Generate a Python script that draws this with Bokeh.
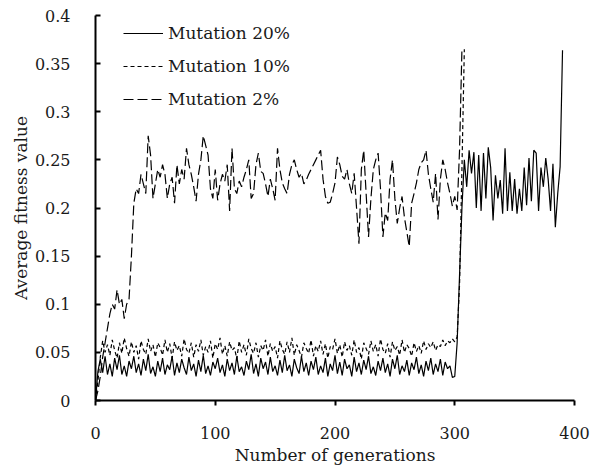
from bokeh.plotting import figure
from bokeh.models import Range1d, FixedTicker, NumeralTickFormatter, Legend, LegendItem
from bokeh.embed import file_html
from bokeh.resources import INLINE

# ---------------- data ----------------
series_labels = ["Mutation 20%", "Mutation 10%", "Mutation 2%"]
x_ticks = [0, 100, 200, 300, 400]
y_ticks = [0, 0.05, 0.1, 0.15, 0.2, 0.25, 0.3, 0.35, 0.4]

# generations 0, 2, 4, ... 390
gen_m20 = list(range(0, 391, 2))
fit_m20 = [
    0.000, 0.030, 0.043, 0.029, 0.046, 0.027, 0.038, 0.025, 0.044, 0.032,
    0.047, 0.027, 0.036, 0.025, 0.041, 0.033, 0.046, 0.029, 0.038, 0.026,
    0.043, 0.031, 0.048, 0.028, 0.035, 0.025, 0.041, 0.030, 0.044, 0.027,
    0.037, 0.032, 0.046, 0.026, 0.039, 0.029, 0.043, 0.034, 0.027, 0.045,
    0.031, 0.038, 0.025, 0.042, 0.030, 0.047, 0.028, 0.036, 0.026, 0.040,
    0.033, 0.044, 0.029, 0.037, 0.025, 0.043, 0.031, 0.039, 0.027, 0.046,
    0.030, 0.035, 0.026, 0.041, 0.032, 0.048, 0.028, 0.038, 0.025, 0.044,
    0.033, 0.040, 0.027, 0.045, 0.030, 0.036, 0.026, 0.042, 0.029, 0.047,
    0.031, 0.037, 0.025, 0.043, 0.034, 0.028, 0.046, 0.030, 0.039, 0.026,
    0.041, 0.032, 0.045, 0.027, 0.036, 0.029, 0.044, 0.025, 0.038, 0.031,
    0.047, 0.028, 0.040, 0.026, 0.043, 0.033, 0.037, 0.025, 0.045, 0.030,
    0.039, 0.027, 0.042, 0.032, 0.046, 0.028, 0.035, 0.026, 0.041, 0.031,
    0.044, 0.029, 0.038, 0.025, 0.043, 0.033, 0.047, 0.027, 0.036, 0.030,
    0.042, 0.026, 0.039, 0.032, 0.045, 0.028, 0.037, 0.025, 0.041, 0.031,
    0.044, 0.027, 0.038, 0.030, 0.043, 0.026, 0.040, 0.033, 0.036, 0.024,
    0.025,
    0.060, 0.130, 0.200, 0.250, 0.222, 0.260, 0.236, 0.258, 0.200, 0.255,
    0.197, 0.257, 0.210, 0.263, 0.242, 0.187, 0.234, 0.210, 0.229, 0.194,
    0.262, 0.197, 0.237, 0.197, 0.230, 0.194, 0.220, 0.197, 0.242, 0.203,
    0.252, 0.207, 0.260, 0.257, 0.197, 0.242, 0.222, 0.252, 0.230, 0.197,
    0.246, 0.180, 0.215, 0.243, 0.364,
]

# generations 0, 2, 4, ... 308
gen_m10 = list(range(0, 309, 2))
fit_m10 = [
    0.000, 0.020, 0.045, 0.062, 0.050, 0.058, 0.047, 0.063, 0.052, 0.044,
    0.060, 0.049, 0.065, 0.054, 0.046, 0.061, 0.050, 0.057, 0.043, 0.062,
    0.053, 0.048, 0.064, 0.051, 0.058, 0.045, 0.060, 0.055, 0.047, 0.063,
    0.050, 0.059, 0.044, 0.061, 0.052, 0.057, 0.046, 0.064, 0.053, 0.049,
    0.060, 0.045, 0.058, 0.051, 0.063, 0.047, 0.056, 0.050, 0.062, 0.044,
    0.059, 0.053, 0.065, 0.048, 0.057, 0.046, 0.061, 0.052, 0.055, 0.043,
    0.062, 0.050, 0.058, 0.047, 0.064, 0.054, 0.049, 0.060, 0.045, 0.057,
    0.052, 0.063, 0.046, 0.059, 0.051, 0.056, 0.044, 0.062, 0.053, 0.048,
    0.061, 0.050, 0.065, 0.047, 0.058, 0.052, 0.045, 0.060, 0.054, 0.049,
    0.063, 0.046, 0.057, 0.051, 0.062, 0.048, 0.059, 0.044, 0.056, 0.053,
    0.064, 0.049, 0.058, 0.045, 0.061, 0.052, 0.057, 0.047, 0.063, 0.050,
    0.055, 0.043, 0.060, 0.054, 0.048, 0.062, 0.051, 0.058, 0.046, 0.064,
    0.053, 0.049, 0.059, 0.045, 0.061, 0.052, 0.056, 0.047, 0.063, 0.050,
    0.058, 0.054, 0.046, 0.060, 0.051, 0.057, 0.049, 0.062, 0.053, 0.059,
    0.055, 0.061, 0.052, 0.058, 0.056, 0.063, 0.057, 0.062, 0.060, 0.064,
    0.061,
    0.066, 0.120, 0.240, 0.365,
]

# generations 0, 2, 4, ... 306
gen_m2 = list(range(0, 307, 2))
fit_m2 = [
    0.000, 0.010, 0.025, 0.045, 0.060, 0.075, 0.090, 0.100, 0.095, 0.115,
    0.100, 0.105, 0.085, 0.100, 0.105, 0.150, 0.205, 0.220, 0.215, 0.235,
    0.225, 0.215, 0.275, 0.255, 0.210, 0.225, 0.240, 0.232, 0.245, 0.235,
    0.210, 0.225, 0.232, 0.205, 0.245, 0.225, 0.240, 0.230, 0.262, 0.245,
    0.235, 0.222, 0.207, 0.235, 0.250, 0.275, 0.265, 0.255, 0.220, 0.210,
    0.240, 0.208, 0.225, 0.235, 0.228, 0.245, 0.197, 0.262, 0.220, 0.215,
    0.228, 0.222, 0.232, 0.240, 0.250, 0.210, 0.215, 0.245, 0.257, 0.238,
    0.236, 0.225, 0.212, 0.230, 0.220, 0.208, 0.262, 0.240, 0.226, 0.220,
    0.215, 0.235, 0.245, 0.250, 0.240, 0.232, 0.236, 0.225, 0.229, 0.235,
    0.240, 0.245, 0.250, 0.255, 0.260, 0.230, 0.212, 0.205, 0.206, 0.215,
    0.226, 0.253, 0.245, 0.233, 0.230, 0.240, 0.225, 0.215, 0.236, 0.200,
    0.163, 0.240, 0.260, 0.215, 0.170, 0.210, 0.240, 0.250, 0.257, 0.220,
    0.170, 0.195, 0.187, 0.230, 0.250, 0.210, 0.184, 0.200, 0.212, 0.190,
    0.175, 0.160, 0.205, 0.215, 0.226, 0.240, 0.247, 0.250, 0.260, 0.235,
    0.220, 0.206, 0.236, 0.188, 0.230, 0.250, 0.240, 0.226, 0.215, 0.202,
    0.212, 0.198, 0.260, 0.365,
]

assert len(gen_m20) == len(fit_m20)
assert len(gen_m10) == len(fit_m10)
assert len(gen_m2) == len(fit_m2)

FONT = "DejaVu Serif"
TXT = "#1a1a1a"

p = figure(width=590, height=467, output_backend="svg", toolbar_location=None,
           x_range=Range1d(0, 400), y_range=Range1d(0, 0.4),
           min_border_left=95, min_border_right=16, min_border_top=15, min_border_bottom=67)

p.outline_line_color = None
p.grid.visible = False
p.background_fill_color = "white"
p.border_fill_color = "white"

r20 = p.line(gen_m20, fit_m20, line_color="black", line_width=1.2)
r10 = p.line(gen_m10, fit_m10, line_color="black", line_width=1.2, line_dash="4 3")
r2 = p.line(gen_m2, fit_m2, line_color="black", line_width=1.2, line_dash="10 4")

xa = p.xaxis[0]
ya = p.yaxis[0]
xa.ticker = FixedTicker(ticks=x_ticks)
ya.ticker = FixedTicker(ticks=y_ticks)
ya.formatter = NumeralTickFormatter(format="0.[00]")
xa.minor_tick_line_color = None
ya.minor_tick_line_color = None
for ax in (xa, ya):
    ax.axis_line_color = "black"
    ax.axis_line_width = 2
    ax.major_tick_line_color = "black"
    ax.major_tick_line_width = 2
    ax.major_label_text_font = FONT
    ax.major_label_text_font_size = "16px"
    ax.major_label_text_color = TXT
    ax.axis_label_text_font = FONT
    ax.axis_label_text_font_size = "17px"
    ax.axis_label_text_font_style = "normal"
    ax.axis_label_text_color = TXT

xa.major_tick_out = 5
xa.major_tick_in = 0
xa.major_label_standoff = 21
xa.axis_label = "Number of generations"
xa.axis_label_standoff = 3

ya.major_tick_out = 0
ya.major_tick_in = 5
ya.major_label_standoff = 25
ya.axis_label = "Average fitness value"
ya.axis_label_standoff = 1

legend = Legend(items=[LegendItem(label=series_labels[0], renderers=[r20]),
                       LegendItem(label=series_labels[1], renderers=[r10]),
                       LegendItem(label=series_labels[2], renderers=[r2])],
                location=(28, 291))
legend.border_line_color = None
legend.background_fill_alpha = 0
legend.label_text_font = FONT
legend.label_text_font_size = "17px"
legend.label_text_color = TXT
legend.glyph_width = 40
legend.glyph_height = 20
legend.label_height = 20
legend.spacing = 13
legend.padding = 0
legend.margin = 0
legend.label_standoff = 5
p.add_layout(legend)

open("out.html", "w").write(file_html(p, INLINE))
